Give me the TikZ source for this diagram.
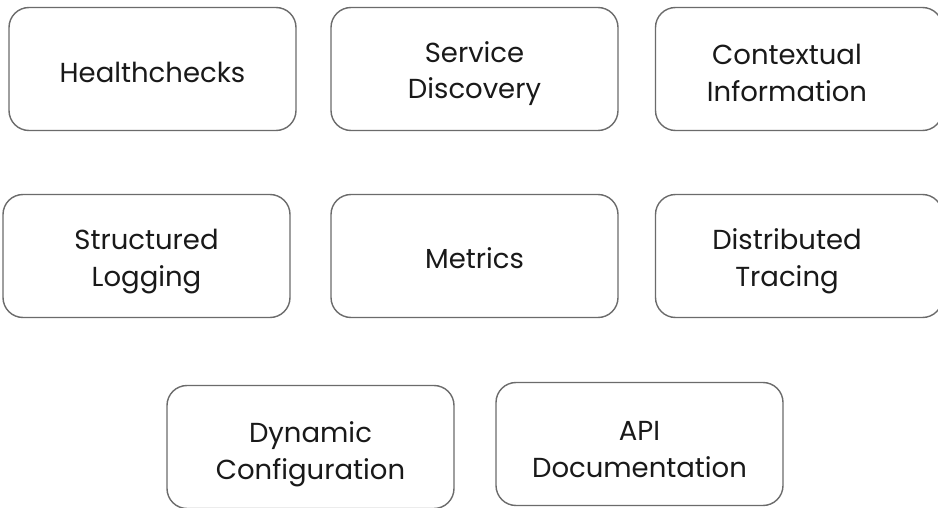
\documentclass[tikz,border=0pt]{standalone}
\usepackage{fontspec}
\setmainfont{Poppins}
\begin{document}
\begin{tikzpicture}[x=1pt,y=-1pt,
  card/.style={draw=black!58, line width=1.4pt, rounded corners=20pt, fill=white,
    minimum width=287pt, minimum height=123pt, inner sep=0pt},
  lbl/.style={align=center, font=\fontsize{27.5}{36.5}\selectfont, text=black!90, inner sep=0pt}]
\useasboundingbox (0,0) rectangle (938,508);
\clip (0,0) rectangle (938,508);
% row 1
\node[card] (b1) at (152.5,69) {};
\node[card] (b2) at (474.5,69) {};
\node[card] (b3) at (799,69) {};
% row 2
\node[card] (b4) at (146.5,256) {};
\node[card] (b5) at (474.5,256) {};
\node[card] (b6) at (799,256) {};
% row 3
\node[card] (b7) at (310.5,447) {};
\node[card] (b8) at (639.5,444) {};
% labels
\node[lbl] (t1) at (152.5,72) {Healthchecks};
\node[lbl] (t2) at (474.5,73.5) {Service\\Discovery};
\node[lbl] (t3) at (787,73) {Contextual\\Information};
\node[lbl] (t4) at (146.5,261.5) {Structured\\Logging};
\node[lbl] (t5) at (474.5,258.5) {Metrics};
\node[lbl] (t6) at (787,261) {Distributed\\Tracing};
\node[lbl] (t7) at (310.5,454) {Dynamic\\Configuration};
\node[lbl] (t8) at (639.5,449.5) {API\\Documentation};
\end{tikzpicture}
\end{document}
